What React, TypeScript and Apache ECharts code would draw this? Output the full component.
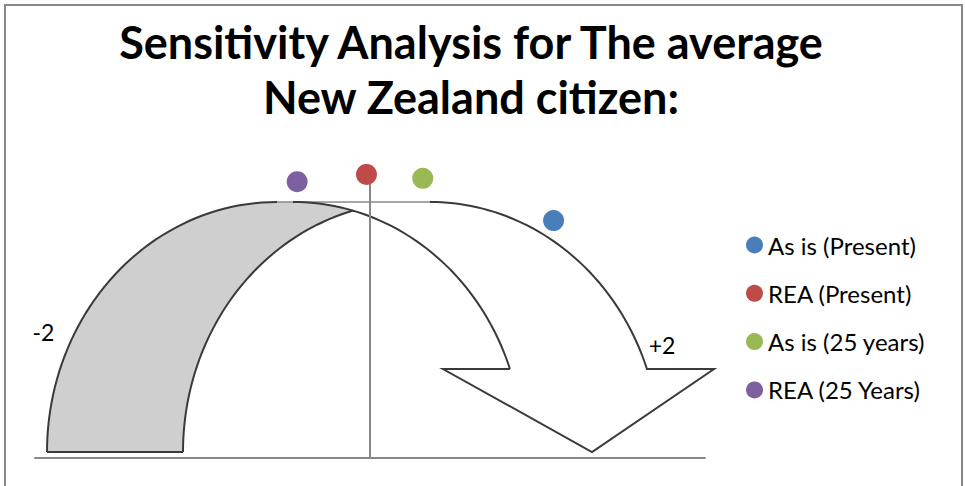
import React, { useEffect, useRef } from "react";
import * as echarts from "echarts";

// ---- data ----
const seriesNames = ["As is (Present)", "REA (Present)", "As is (25 years)", "REA (25 Years)"];
const xValues = [1.096, -0.021, 0.315, -0.435];
const yValues = [0.854, 1.02, 1.006, 0.994];
const seriesColors = ["#4A7EBB", "#BE4B48", "#98B954", "#7D60A0"];
const scaleLabels = ["-2", "+2"];
const titleLines = ["Sensitivity Analysis for The average", "New Zealand citizen:"];

const FONT = "Lato, 'Open Sans', sans-serif";

function arc(cx: number, cy: number, rx: number, ry: number, a0: number, a1: number, n = 48) {
  const pts: number[][] = [];
  for (let i = 0; i <= n; i++) {
    const a = ((a0 + ((a1 - a0) * i) / n) * Math.PI) / 180;
    pts.push([cx + rx * Math.cos(a), cy - ry * Math.sin(a)]);
  }
  return pts;
}

function buildArrow() {
  const RX = 230, RY = 250, CY = 452;
  const GO = 277, GI = 413, WI = 293, WO = 430;
  const aInt = (Math.acos((GI - WI) / 2 / RX) * 180) / Math.PI; // white inner / gray inner crossing
  const aEnd = (Math.asin((CY - 369) / RY) * 180) / Math.PI;
  const grayOuter = arc(GO, CY, RX, RY, 180, 90);
  const whiteInnerTop = arc(WI, CY, RX, RY, 90, aInt, 12);
  const grayInner = arc(GI, CY, RX, RY, 180 - aInt, 180);
  const whiteOuter = arc(WO, CY, RX, RY, 90, aEnd);
  const whiteInnerUp = arc(WI, CY, RX, RY, aEnd, 90);
  const head = [[714, 369], [592, 452], [443, 369]];
  const ink = { stroke: "#3a3a3a", lineWidth: 2, fill: null as any };
  return [
    {
      type: "polygon", z: -10, silent: true,
      shape: { points: [[WI, CY - RY], [WO, CY - RY], ...whiteOuter, ...head, ...whiteInnerUp] },
      style: { fill: "#ffffff", stroke: null },
    },
    {
      type: "polygon", z: -9, silent: true,
      shape: { points: [...grayOuter, [WI, CY - RY], ...whiteInnerTop, ...grayInner] },
      style: { fill: "#cfcfcf", stroke: null },
    },
    { type: "line", z: -8, silent: true, shape: { x1: GO, y1: CY - RY, x2: WO, y2: CY - RY }, style: { stroke: "#8a8a8a", lineWidth: 1.5 } },
    { type: "polyline", z: -7, silent: true, shape: { points: grayOuter }, style: ink },
    { type: "polyline", z: -7, silent: true, shape: { points: [[GO - RX, CY], [GI - RX, CY]] }, style: ink },
    { type: "polyline", z: -7, silent: true, shape: { points: grayInner }, style: ink },
    { type: "polyline", z: -7, silent: true, shape: { points: [...whiteInnerUp].reverse() }, style: ink },
    {
      type: "polyline", z: -7, silent: true,
      shape: { points: [whiteInnerUp[0], ...head.slice().reverse(), [whiteOuter[whiteOuter.length - 1][0], 369], ...[...whiteOuter].reverse()] },
      style: ink,
    },
  ];
}

export default function App() {
  const ref = useRef<HTMLDivElement>(null);
  useEffect(() => {
    if (!ref.current) return;
    const chart = echarts.init(ref.current, undefined, { renderer: "svg" });
    chart.setOption({
      animation: false,
      backgroundColor: "#ffffff",
      title: {
        text: titleLines.join("\n"),
        left: 466,
        textAlign: "center",
        top: 9,
        textStyle: { fontFamily: FONT, fontWeight: "bold", fontSize: 45, lineHeight: 55, color: "#000" },
      },
      legend: {
        orient: "vertical",
        left: 746,
        top: 233,
        padding: 0,
        icon: "circle",
        itemWidth: 17,
        itemHeight: 17,
        itemGap: 24.3,
        data: seriesNames,
        textStyle: { fontFamily: FONT, fontSize: 24, color: "#000" },
      },
      grid: { left: 35, right: 260, top: 180, bottom: 28 },
      xAxis: {
        type: "value", min: -2, max: 2,
        axisLine: { show: true, lineStyle: { color: "#888", width: 2 } },
        axisTick: { show: false }, axisLabel: { show: false }, splitLine: { show: false },
      },
      yAxis: {
        type: "value", min: 0, max: 1,
        axisLine: { show: true, onZero: true, lineStyle: { color: "#888", width: 2 } },
        axisTick: { show: false }, axisLabel: { show: false }, splitLine: { show: false },
      },
      graphic: [
        { type: "rect", z: -20, silent: true, shape: { x: 5, y: 5, width: 957, height: 500 }, style: { fill: null, stroke: "#888", lineWidth: 2 } },
        ...buildArrow(),
        { type: "text", z: 5, x: 43.5, y: 331.5, style: { text: scaleLabels[0], fontFamily: FONT, fontSize: 23, fill: "#000", align: "center", verticalAlign: "middle" } },
        { type: "text", z: 5, x: 662, y: 345, style: { text: scaleLabels[1], fontFamily: FONT, fontSize: 23, fill: "#000", align: "center", verticalAlign: "middle" } },
      ],
      series: seriesNames.map((name, i) => ({
        type: "scatter",
        name,
        clip: false,
        symbolSize: 21,
        itemStyle: { color: seriesColors[i], opacity: 1 },
        data: [[xValues[i], yValues[i]]],
      })),
    });
    return () => chart.dispose();
  }, []);
  return <div ref={ref} style={{ position: "fixed", left: 0, top: 0, width: 965, height: 486 }} />;
}
